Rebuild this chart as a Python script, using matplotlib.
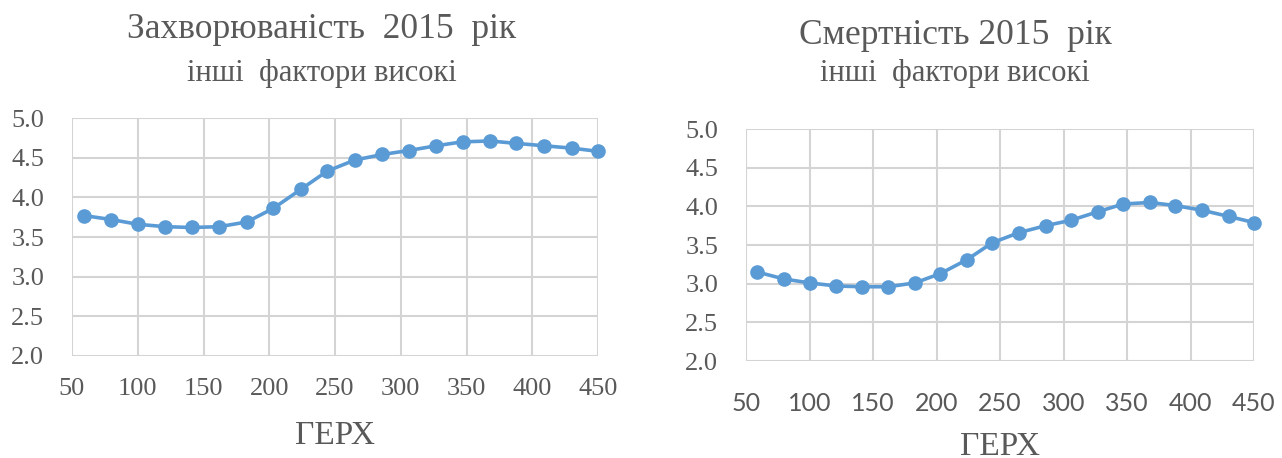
import matplotlib
matplotlib.use("Agg")
import matplotlib.pyplot as plt

# ГЕРХ values along the x axis (same for both panels)
gerh = [59, 80, 100, 121, 141, 162, 183, 203, 224, 244,
        265, 286, 306, 327, 347, 368, 388, 409, 430, 450]

morbidity = [3.77, 3.72, 3.66, 3.63, 3.62, 3.63, 3.69, 3.86, 4.10, 4.33,
             4.47, 4.54, 4.59, 4.65, 4.70, 4.71, 4.68, 4.65, 4.62, 4.58]

mortality = [3.15, 3.06, 3.01, 2.97, 2.96, 2.96, 3.01, 3.13, 3.31, 3.53,
             3.66, 3.75, 3.82, 3.93, 4.03, 4.05, 4.01, 3.95, 3.87, 3.79]

titles = ["Захворюваність  2015  рік", "Смертність 2015  рік"]
subtitle = "інші  фактори високі"
xlab = "ГЕРХ"
xticks = [50, 100, 150, 200, 250, 300, 350, 400, 450]
yticks = [2.0, 2.5, 3.0, 3.5, 4.0, 4.5, 5.0]

plt.rcParams["font.family"] = ["Liberation Serif", "DejaVu Serif"]
txt = "#595959"
blue = "#5b9bd5"
grid = "#d4d4d4"

W, H = 1282, 458
fig = plt.figure(figsize=(W/100, H/100), dpi=100)

# axes boxes in pixels: left, top, right, bottom
boxes = [(72, 118, 598, 356), (746, 129, 1254, 361)]
title_y = [(30, 74), (35, 73)]
title_x = [322, 955]
xlab_y = [436, 447]
xtick_font = ["Liberation Serif", "Lato"]
xtick_size = [19, 18]
xtick_pad = [16, 22]

for i, (vals, box) in enumerate(zip([morbidity, mortality], boxes)):
    l, t, r, b = box
    ax = fig.add_axes([l/W, 1-b/H, (r-l)/W, (b-t)/H])
    ax.plot(gerh, vals, "-o", color=blue, lw=2.6, ms=9.5, clip_on=False, zorder=3)
    ax.set_xlim(50, 450)
    ax.set_ylim(2, 5)
    ax.set_xticks(xticks)
    ax.set_yticks(yticks)
    ax.set_yticklabels(["%.1f" % v for v in yticks])
    ax.grid(True, color=grid, lw=1.5)
    for s in ax.spines.values():
        s.set_visible(False)
    ax.tick_params(length=0, labelsize=19, colors=txt)
    ax.tick_params(axis="y", pad=20)
    ax.tick_params(axis="x", pad=xtick_pad[i], labelsize=xtick_size[i])
    for lab in ax.get_xticklabels():
        lab.set_family([xtick_font[i], "DejaVu Sans"])
    fig.text(title_x[i]/W, 1-title_y[i][0]/H, titles[i], ha="center", va="center",
             fontsize=25.5, color=txt)
    fig.text(title_x[i]/W, 1-title_y[i][1]/H, subtitle, ha="center", va="center",
             fontsize=22, color=txt)
    fig.text(((l+r)/2)/W, 1-xlab_y[i]/H, xlab, ha="center", va="center",
             fontsize=24, color=txt)

fig.savefig("out.png", dpi=100)
